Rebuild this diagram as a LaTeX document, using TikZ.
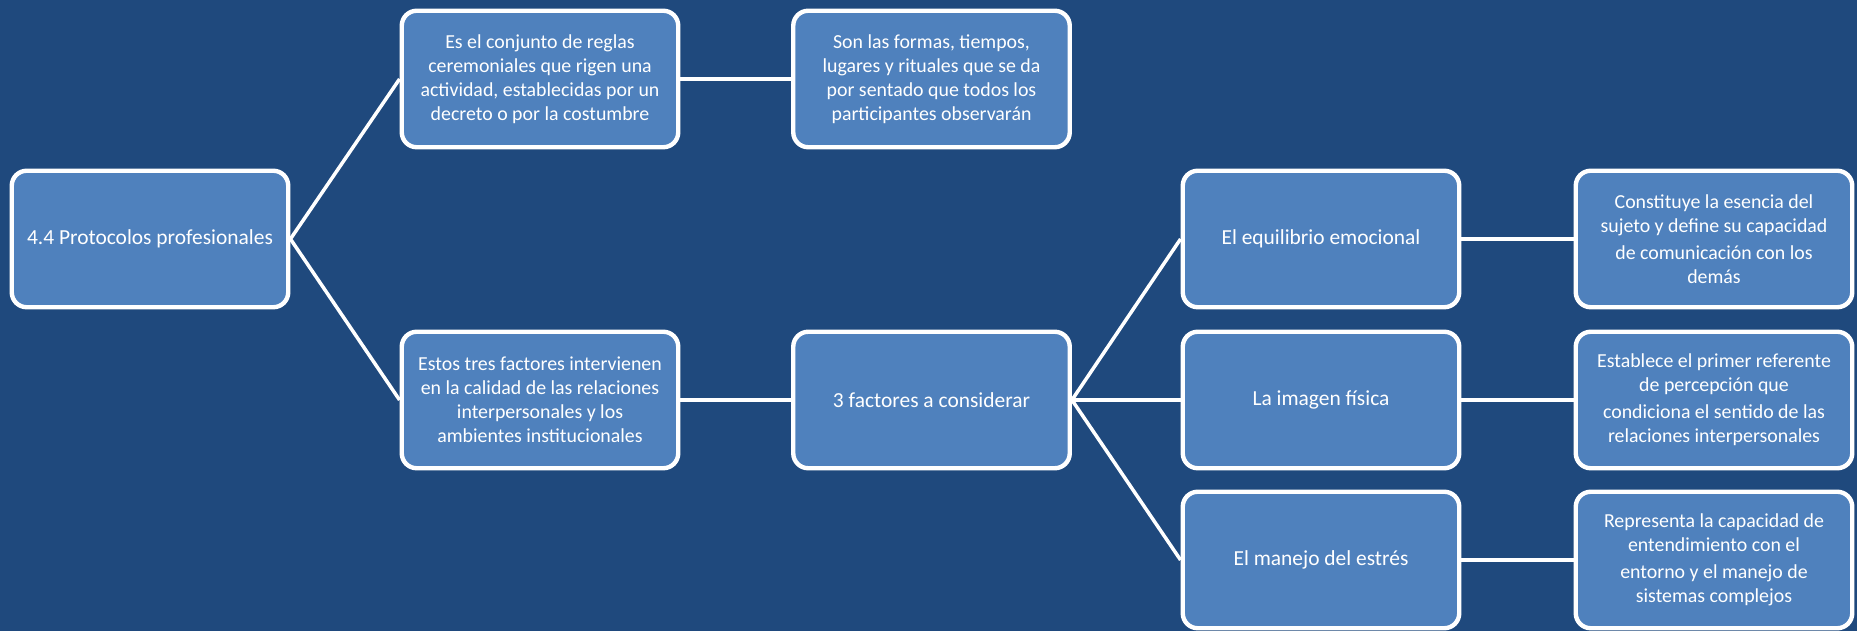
\documentclass[tikz,border=0pt]{standalone}
\usepackage{fontspec}
\setmainfont{Carlito}
\usepackage{tikz}
\definecolor{fondo}{HTML}{1F497D}
\definecolor{caja}{HTML}{4F81BD}
\tikzset{cajanode/.style={rectangle, rounded corners=0.3cm, draw=white, line width=2.5pt,
fill=caja, text=white, align=center, minimum width=5.53cm, minimum height=2.73cm,
inner sep=2pt, font=\fontsize{11.3}{13.6}\selectfont},
grande/.style={font=\fontsize{12.2}{14.6}\selectfont},
conector/.style={white, line width=2pt}}

\begin{document}
\begin{tikzpicture}
\coordinate (SurOeste) at (0,0);
\coordinate (NorEste) at (37.14,12.62);
\fill[fondo] (SurOeste) rectangle (NorEste);
\useasboundingbox (SurOeste) rectangle (NorEste);

%%Cajas
\begin{scope}[every node/.style={cajanode}]
\node[grande] (protocolos) at (3.0,7.84) {4.4 Protocolos profesionales};

\node (reglas) at (10.8,11.04) {Es el conjunto de reglas\\ ceremoniales que rigen una\\ actividad, establecidas por un\\ decreto o por la costumbre};
\node (formas) at (18.63,11.04) {Son las formas, tiempos,\\ lugares y rituales que se da\\ por sentado que todos los\\ participantes observarán};

\node (factores) at (10.8,4.62) {Estos tres factores intervienen\\ en la calidad de las relaciones\\ interpersonales y los\\ ambientes institucionales};
\node[grande] (tres) at (18.63,4.62) {3 factores a considerar};

\node[grande] (equilibrio) at (26.42,7.84) {El equilibrio emocional};
\node[grande] (imagen) at (26.42,4.62) {La imagen física};
\node[grande] (estres) at (26.42,1.42) {El manejo del estrés};

\node (esencia) at (34.28,7.84) {Constituye la esencia del\\ sujeto y define su capacidad\\[2pt] de comunicación con los\\ demás};
\node (referente) at (34.28,4.62) {Establece el primer referente\\ de percepción que\\[2pt] condiciona el sentido de las\\ relaciones interpersonales};
\node (entorno) at (34.28,1.42) {Representa la capacidad de\\ entendimiento con el\\[2pt] entorno y el manejo de\\ sistemas complejos};
\end{scope}

%%Conectores
\draw[conector] (protocolos.east) -- (reglas.west);
\draw[conector] (protocolos.east) -- (factores.west);
\draw[conector] (reglas.east) -- (formas.west);
\draw[conector] (factores.east) -- (tres.west);
\draw[conector] (tres.east) -- (equilibrio.west);
\draw[conector] (tres.east) -- (imagen.west);
\draw[conector] (tres.east) -- (estres.west);
\draw[conector] (equilibrio.east) -- (esencia.west);
\draw[conector] (imagen.east) -- (referente.west);
\draw[conector] (estres.east) -- (entorno.west);

\end{tikzpicture}
\end{document}
